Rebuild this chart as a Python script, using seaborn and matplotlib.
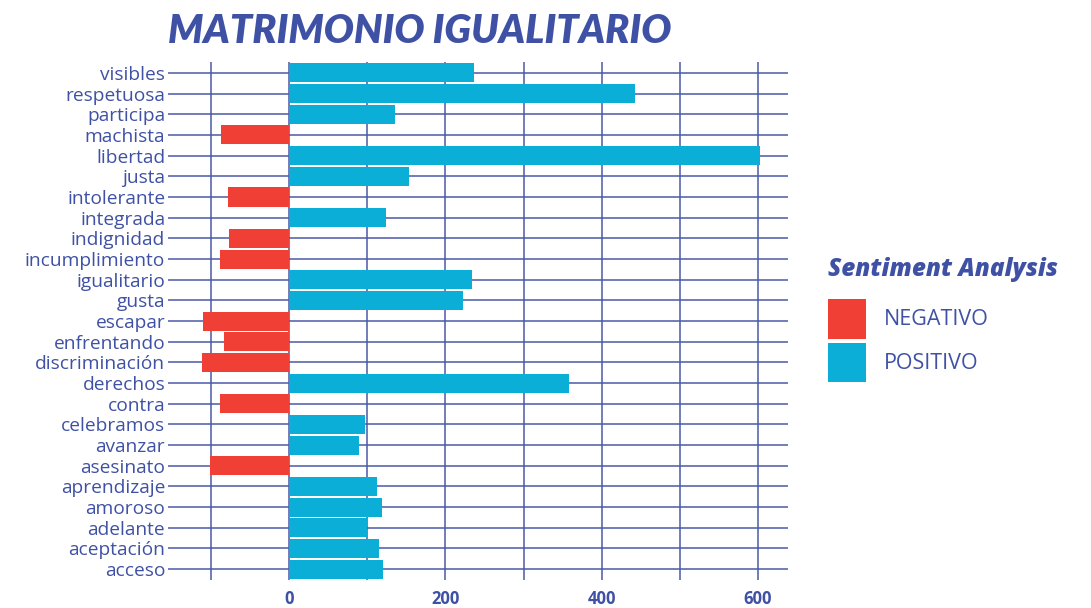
import matplotlib
matplotlib.use("Agg")
import matplotlib.pyplot as plt
from matplotlib.ticker import FixedLocator
import pandas as pd
import seaborn as sns

words = ["visibles", "respetuosa", "participa", "machista", "libertad", "justa",
         "intolerante", "integrada", "indignidad", "incumplimiento", "igualitario",
         "gusta", "escapar", "enfrentando", "discriminación", "derechos", "contra",
         "celebramos", "avanzar", "asesinato", "aprendizaje", "amoroso", "adelante",
         "aceptación", "acceso"]
counts = [236, 442, 135, -87, 603, 153, -78, 124, -77, -89, 234, 222, -110, -83,
          -112, 358, -89, 97, 89, -101, 112, 119, 100, 115, 120]
sentiment = ["NEGATIVO" if c < 0 else "POSITIVO" for c in counts]

TEXT = "#3f51a5"
GRID = "#4b59a9"
palette = {"NEGATIVO": "#f04036", "POSITIVO": "#0aaed6"}

df = pd.DataFrame({"word": words, "count": counts, "sentiment": sentiment})

sns.set_theme(style="white")
plt.rcParams["font.family"] = ["Open Sans", "DejaVu Sans"]

fig = plt.figure(figsize=(10.91, 6.08), dpi=100)
ax = fig.add_axes([0.154, 0.046, 0.568, 0.852])

sns.barplot(data=df, x="count", y="word", hue="sentiment", order=words,
            hue_order=["NEGATIVO", "POSITIVO"], palette=palette, dodge=False,
            width=0.92, saturation=1, linewidth=0, ax=ax, zorder=3)

ax.set_xlim(-155, 638)
ax.set_ylim(len(words) - 0.47, -0.53)
ax.xaxis.set_major_locator(FixedLocator([0, 200, 400, 600]))
ax.xaxis.set_minor_locator(FixedLocator([-100, 100, 300, 500]))
ax.grid(True, which="both", axis="x", color=GRID, linewidth=1.3, alpha=0.85, zorder=0)
ax.grid(True, which="major", axis="y", color=GRID, linewidth=1.3, alpha=0.85, zorder=0)
ax.set_axisbelow(True)
for s in ax.spines.values():
    s.set_visible(False)
ax.tick_params(axis="both", which="both", length=0)
ax.tick_params(axis="y", pad=2, labelsize=13.8, labelcolor=TEXT)
ax.tick_params(axis="x", pad=7, labelsize=12, labelcolor=TEXT)
for t in ax.get_xticklabels():
    t.set_fontweight("bold")
ax.set_xlabel("")
ax.set_ylabel("")

fig.text(0.154, 0.948, "MATRIMONIO IGUALITARIO", fontsize=28.5, fontweight="heavy",
         style="italic", color=TEXT, ha="left", va="center",
         family=["Lato", "DejaVu Sans"])

# legend title drawn separately so the gap above the swatches matches
fig.text(0.759, 1 - 270 / 608, "Sentiment Analysis", fontsize=17.5,
         fontweight="heavy", style="italic", color=TEXT, ha="left", va="center")

handles, labels = ax.get_legend_handles_labels()
leg = ax.legend(handles, labels,
                loc="upper left", bbox_to_anchor=(0.759, 1 - 299 / 608),
                bbox_transform=fig.transFigure, frameon=False,
                fontsize=15.5, handlelength=1.75, handleheight=2.45,
                labelspacing=0.2, handletextpad=0.85,
                borderaxespad=0, borderpad=0)
for t in leg.get_texts():
    t.set_color(TEXT)

fig.savefig("out.png", dpi=100)
